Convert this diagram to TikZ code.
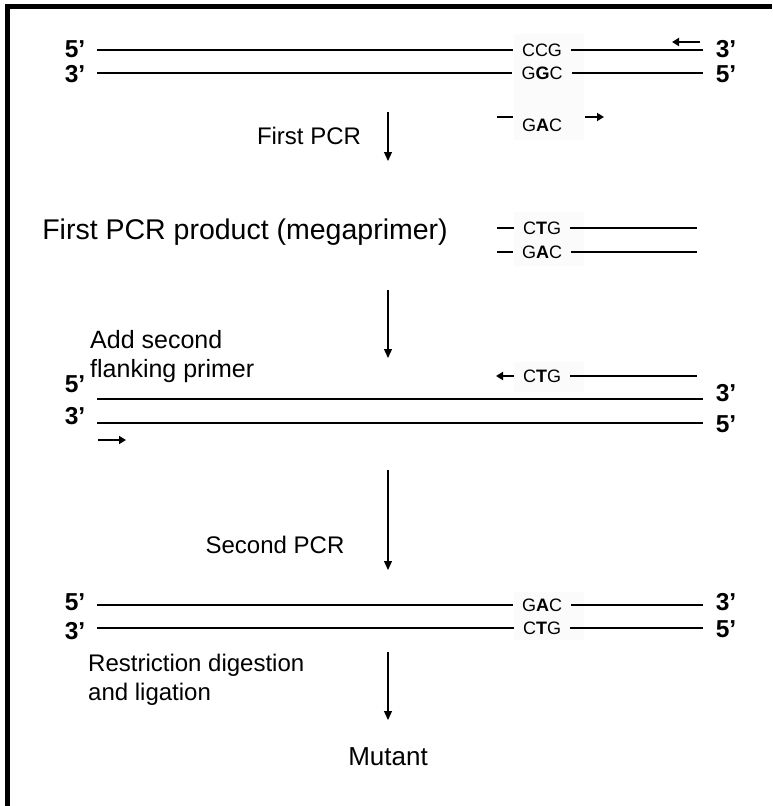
\documentclass[tikz,border=0pt]{standalone}
\usepackage{fontspec}
\setmainfont{Liberation Sans}
\usetikzlibrary{arrows.meta}
\begin{document}
\begin{tikzpicture}[x=1pt,y=-1pt,
  strand/.style={line width=2.7pt},
  primer/.style={line width=2.2pt,-{Triangle[length=7pt,width=8pt]}},
  flow/.style={line width=1.2pt,-{Triangle[length=9pt,width=8pt]}},
  endlab/.style={font=\fontsize{24.5}{26}\selectfont\bfseries,inner sep=0pt},
  seq/.style={font=\fontsize{18}{20}\selectfont,inner xsep=9pt,inner ysep=0pt},
  caption/.style={font=\fontsize{24}{29}\selectfont,inner sep=0pt,align=left},
  seqbg/.style={fill=black!1.5}
]
\useasboundingbox (0,0) rectangle (772,806);
\fill[white] (0,0) rectangle (772,806);
% frame (top and left edges)
\draw[line width=4.5pt] (7.5,806) -- (7.5,6.5) -- (772,6.5);

% faint backdrops behind the codon columns
\fill[seqbg] (514,34) rectangle (584,140);
\fill[seqbg] (514,212) rectangle (584,266);
\fill[seqbg] (514,362) rectangle (584,392);
\fill[seqbg] (514,592) rectangle (584,640);

% ---------- template with mutagenic primers ----------
\node[endlab] (t5) at (75,49) {5’};
\node[endlab] (t3) at (75,74) {3’};
\coordinate (t1s) at (97,50);
\coordinate (t2s) at (97,73);
\node[seq] (c1) at (542,50) {CCG};
\node[seq] (c2) at (542,73) {G\textbf{G}C};
\coordinate (t1e) at (703,50);
\coordinate (t2e) at (703,73);
\node[endlab] (u3) at (726,49) {3’};
\node[endlab] (u5) at (726,74) {5’};
\draw[strand] (t1s) -- (c1.west) (c1.east) -- (t1e);
\draw[strand] (t2s) -- (c2.west) (c2.east) -- (t2e);
% reverse flanking primer
\coordinate (rp1) at (700,42);
\coordinate (rp2) at (672,42);
\draw[primer] (rp1) -- (rp2);
% mutagenic primer
\node[seq] (c3) at (542,125) {G\textbf{A}C};
\coordinate (mp1) at (497,117);
\draw[strand] (mp1) -- (c3.west |- mp1);
\coordinate (mp2) at (585,117);
\coordinate (mp3) at (604,117);
\draw[primer] (mp2) -- (mp3);

\node[caption] (s1) at (309,136) {First PCR};
\coordinate (a1s) at (388,112);
\coordinate (a1e) at (388,161);
\draw[flow] (a1s) -- (a1e);

% ---------- megaprimer ----------
\node[caption,font=\fontsize{28.5}{30}\selectfont] (s2) at (245,232) {First PCR product (megaprimer)};
\node[seq] (m1) at (542,228) {C\textbf{T}G};
\node[seq] (m2) at (542,252) {G\textbf{A}C};
\coordinate (m1s) at (497,228);
\coordinate (m2s) at (497,252);
\coordinate (m1e) at (697,228);
\coordinate (m2e) at (697,252);
\draw[strand] (m1s) -- (m1.west) (m1.east) -- (m1e);
\draw[strand] (m2s) -- (m2.west) (m2.east) -- (m2e);

\coordinate (a2s) at (388,290);
\coordinate (a2e) at (388,358);
\draw[flow] (a2s) -- (a2e);

% ---------- second flanking primer ----------
\node[caption,anchor=north west,font=\fontsize{25}{29}\selectfont] (s3) at (90,330) {Add second\\flanking primer};
\node[endlab] (v5) at (75,384) {5’};
\node[endlab] (v3) at (75,416) {3’};
\coordinate (v1s) at (97,399);
\coordinate (v2s) at (97,423);
\coordinate (v1e) at (703,399);
\coordinate (v2e) at (703,423);
\draw[strand] (v1s) -- (v1e);
\draw[strand] (v2s) -- (v2e);
\node[endlab] (w3) at (726,393) {3’};
\node[endlab] (w5) at (726,424) {5’};
\node[seq] (g1) at (542,376) {C\textbf{T}G};
\coordinate (g1e) at (697,376);
\draw[strand] (g1.east) -- (g1e);
\coordinate (gp) at (496,376);
\draw[primer] (g1.west) -- (gp);
\coordinate (fp1) at (98,440);
\coordinate (fp2) at (126,440);
\draw[primer] (fp1) -- (fp2);

\node[caption] (s4) at (275,545) {Second PCR};
\coordinate (a3s) at (388,470);
\coordinate (a3e) at (388,570);
\draw[flow] (a3s) -- (a3e);

% ---------- mutant product ----------
\node[endlab] (x5) at (75,602) {5’};
\node[endlab] (x3) at (75,631) {3’};
\coordinate (x1s) at (97,605);
\coordinate (x2s) at (97,628);
\node[seq] (d1) at (542,605) {G\textbf{A}C};
\node[seq] (d2) at (542,628) {C\textbf{T}G};
\coordinate (x1e) at (703,605);
\coordinate (x2e) at (703,628);
\node[endlab] (y3) at (726,602) {3’};
\node[endlab] (y5) at (726,629) {5’};
\draw[strand] (x1s) -- (d1.west) (d1.east) -- (x1e);
\draw[strand] (x2s) -- (d2.west) (d2.east) -- (x2e);

\node[caption,anchor=north west] (s5) at (88,654) {Restriction digestion\\and ligation};
\coordinate (a4s) at (388,652);
\coordinate (a4e) at (388,720);
\draw[flow] (a4s) -- (a4e);
\node[caption,font=\fontsize{26}{29}\selectfont] (s6) at (388,757) {Mutant};
\end{tikzpicture}
\end{document}
